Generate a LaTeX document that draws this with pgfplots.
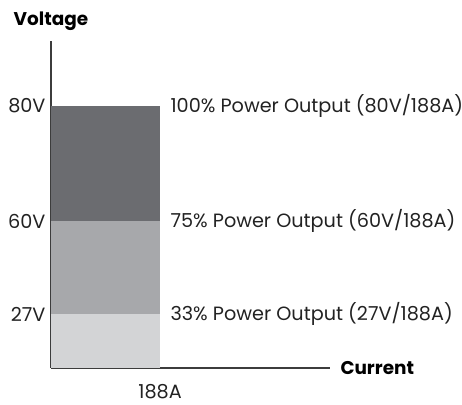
\documentclass[border=0pt]{standalone}
\usepackage{pgfplots}
\pgfplotsset{compat=1.18}
\usepackage{fontspec}
\setmainfont{Poppins}
\definecolor{cdark}{HTML}{6B6C70}
\definecolor{cmid}{HTML}{A7A8AB}
\definecolor{clight}{HTML}{D3D4D6}
\definecolor{caxis}{HTML}{3C3C3C}
\definecolor{ctext}{HTML}{222222}
\begin{document}
\begin{tikzpicture}[font=\fontsize{19.3}{22}\selectfont\color{ctext}]
\begin{axis}[
  at={(0,0)}, anchor=south west,
  scale only axis, width=279bp, height=327bp,
  xmin=0, xmax=481, ymin=0, ymax=100,
  y coord trafo/.code={\pgfmathparse{#1<=27 ? #1*54/27 : (#1<=60 ? 54+(#1-27)*93/33 : (#1<=80 ? 147+(#1-60)*115/20 : 262+(#1-80)*65/20))}},
  axis x line=bottom, axis y line=left,
  axis line style={-, line width=2bp, caxis},
  xtick={188}, xticklabels={188A},
  ytick={27,60,80}, yticklabels={27V,60V,80V},
  major tick length=0pt,
  xticklabel style={yshift=-13bp},
  yticklabel style={xshift=-2bp},
  clip=false,
]
\addplot[fill=cdark, draw=none] coordinates {(0,0) (0,80) (188,80) (188,0)} --cycle;
\addplot[fill=cmid, draw=none] coordinates {(0,0) (0,60) (188,60) (188,0)} --cycle;
\addplot[fill=clight, draw=none] coordinates {(0,0) (0,27) (188,27) (188,0)} --cycle;
\node[anchor=west, xshift=7bp] at (axis cs:188,80) {100\% Power Output (80V/188A)};
\node[anchor=west, xshift=7bp] at (axis cs:188,60) {75\% Power Output (60V/188A)};
\node[anchor=west, xshift=7bp] at (axis cs:188,27) {33\% Power Output (27V/188A)};
\node[anchor=west, xshift=7bp, font=\fontsize{18.5}{22}\selectfont\bfseries] at (axis cs:481,0) {Current};
\node[font=\fontsize{18.5}{22}\selectfont\bfseries] at (axis cs:0,100) [yshift=20bp] {Voltage};
\end{axis}
\pgfresetboundingbox
\useasboundingbox (-51bp,-37bp) rectangle (411bp,368bp);
\end{tikzpicture}
\end{document}
